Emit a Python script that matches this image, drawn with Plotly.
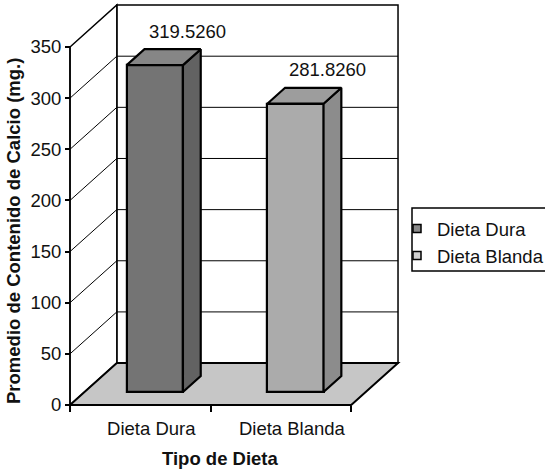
import plotly.graph_objects as go

# ---- data ----
categories = ["Dieta Dura", "Dieta Blanda"]
promedio_calcio = [319.5260, 281.8260]
y_ticks = [0, 50, 100, 150, 200, 250, 300, 350]

# ---- styling ----
front_colors = ["#747474", "#ababab"]
top_colors = ["#868686", "#9d9d9d"]
side_colors = ["#626262", "#8c8c8c"]
legend_colors = ["#8a8a8a", "#cfcfcf"]
floor_color = "#c6c6c6"
FONT = "Liberation Sans, Arial, sans-serif"
FS = 18.5

# oblique projection of the 3-D box: depth shifts in axis units
DX = 0.333          # category units
DY = 41.0           # value units
Z_FRONT, Z_BACK = 0.31, 0.69   # bar depth inside the box
BAR_W = 0.4
Y_MAX = y_ticks[-1]
N = len(categories)

# pixel geometry of the figure
W, H = 545, 472
X0_PX, Y0_PX = 70, 405        # where x=0 / value=0 land
SX, SY = 140.6, 1.0229        # px per unit
PL, PR, PT, PB = 60, 410, 2, 412
x_range = [(PL - X0_PX) / SX, (PR - X0_PX) / SX]
y_range = [(Y0_PX - PB) / SY, (Y0_PX - PT) / SY]


def px_to_paper(px, py):
    return (px - PL) / (PR - PL), (PB - py) / (PB - PT)


def poly(points):
    return "M " + " L ".join(f"{x},{y}" for x, y in points) + " Z"


shapes = []
# back wall
shapes.append(dict(type="rect", xref="x", yref="y", x0=DX, y0=DY, x1=N + DX, y1=Y_MAX + DY,
                   fillcolor="white", line=dict(color="black", width=1.5), layer="below"))
# left wall
shapes.append(dict(type="path", xref="x", yref="y",
                   path=poly([(0, 0), (DX, DY), (DX, Y_MAX + DY), (0, Y_MAX)]),
                   fillcolor="white", line=dict(color="black", width=1.5), layer="below"))
# gridlines on both walls
for v in y_ticks[1:-1]:
    shapes.append(dict(type="line", xref="x", yref="y", x0=0, y0=v, x1=DX, y1=v + DY,
                       line=dict(color="black", width=1), layer="below"))
    shapes.append(dict(type="line", xref="x", yref="y", x0=DX, y0=v + DY, x1=N + DX, y1=v + DY,
                       line=dict(color="black", width=1), layer="below"))
# floor
shapes.append(dict(type="path", xref="x", yref="y",
                   path=poly([(0, 0), (N, 0), (N + DX, DY), (DX, DY)]),
                   fillcolor=floor_color, line=dict(color="black", width=2), layer="below"))
# front value axis line
shapes.append(dict(type="line", xref="x", yref="y", x0=0, y0=0, x1=0, y1=Y_MAX,
                   line=dict(color="black", width=1.5), layer="below"))

fig = go.Figure()

# front faces of the columns
centers = [i + 0.5 for i in range(N)]
fig.add_trace(go.Bar(
    x=[c + Z_FRONT * DX for c in centers],
    y=promedio_calcio,
    base=[Z_FRONT * DY] * N,
    width=BAR_W,
    marker=dict(color=front_colors, line=dict(color="black", width=2.2)),
    showlegend=False, hoverinfo="skip",
))

# side and top faces of the columns
bdx = (Z_BACK - Z_FRONT) * DX
bdy = (Z_BACK - Z_FRONT) * DY
for c, v, tc, sc in zip(centers, promedio_calcio, top_colors, side_colors):
    xl = c - BAR_W / 2 + Z_FRONT * DX
    xr = c + BAR_W / 2 + Z_FRONT * DX
    yb = Z_FRONT * DY
    yt = v + Z_FRONT * DY
    side = [(xr, yb), (xr, yt), (xr + bdx, yt + bdy), (xr + bdx, yb + bdy), (xr, yb)]
    top = [(xl, yt), (xr, yt), (xr + bdx, yt + bdy), (xl + bdx, yt + bdy), (xl, yt)]
    for pts, col in ((side, sc), (top, tc)):
        fig.add_trace(go.Scatter(
            x=[p[0] for p in pts], y=[p[1] for p in pts],
            mode="lines", fill="toself", fillcolor=col,
            line=dict(color="black", width=2.2),
            showlegend=False, hoverinfo="skip",
        ))

# legend entries
for name, col in zip(categories, legend_colors):
    fig.add_trace(go.Scatter(
        x=[None], y=[None], mode="markers", name=name,
        marker=dict(symbol="square", size=8, color=col, line=dict(color="black", width=1.5)),
    ))

annotations = []
# value labels above the columns
for c, v in zip(centers, promedio_calcio):
    annotations.append(dict(x=c + DX, y=v + DY, xref="x", yref="y", text=f"{v:.4f}",
                            xanchor="center", yanchor="middle",
                            showarrow=False, yshift=5, font=dict(size=FS, color="#111")))
# axis titles
tx, ty = px_to_paper(220, 458)
annotations.append(dict(x=tx, y=ty, xref="paper", yref="paper", text="<b>Tipo de Dieta</b>",
                        xanchor="center", yanchor="middle",
                        showarrow=False, font=dict(size=FS, color="#111")))
tx, ty = px_to_paper(13, 231)
annotations.append(dict(x=tx, y=ty, xref="paper", yref="paper", textangle=-90,
                        xanchor="center", yanchor="middle",
                        text="<b>Promedio de Contenido de Calcio (mg.)</b>",
                        showarrow=False, font=dict(size=FS, color="#111")))

# legend frame
bx0, by0 = px_to_paper(412, 271)
bx1, by1 = px_to_paper(560, 208)
shapes.append(dict(type="rect", xref="paper", yref="paper", x0=bx0, y0=by0, x1=bx1, y1=by1,
                   line=dict(color="black", width=1.5), fillcolor="rgba(0,0,0,0)"))
lx, ly = px_to_paper(397, 210)

fig.update_layout(
    width=W, height=H,
    margin=dict(l=PL, r=W - PR, t=PT, b=H - PB, autoexpand=False),
    paper_bgcolor="white", plot_bgcolor="white",
    font=dict(family=FONT, size=FS, color="#111"),
    shapes=shapes, annotations=annotations,
    bargap=0,
    showlegend=True,
    legend=dict(x=lx, y=ly, xanchor="left", yanchor="top", bgcolor="rgba(0,0,0,0)",
                borderwidth=0, font=dict(size=FS, color="#111")),
    xaxis=dict(
        range=x_range, showgrid=False, zeroline=False, showline=False,
        tickmode="array", tickvals=centers, ticktext=categories, ticks="",
        ticklabelshift=11, ticklabelstandoff=10,
        minor=dict(tickmode="array", tickvals=list(range(N + 1)), ticks="outside",
                   ticklen=6, tickwidth=1.5, tickcolor="black", showgrid=False),
        anchor="free", position=(PB - Y0_PX) / (PB - PT),
        tickfont=dict(size=FS),
    ),
    yaxis=dict(
        range=y_range, showgrid=False, zeroline=False, showline=False,
        tickmode="array", tickvals=y_ticks, ticks="outside", ticklen=5,
        tickwidth=1.5, tickcolor="black",
        anchor="free", position=(X0_PX - PL) / (PR - PL),
        tickfont=dict(size=FS),
    ),
)

fig.write_html("out.html")
